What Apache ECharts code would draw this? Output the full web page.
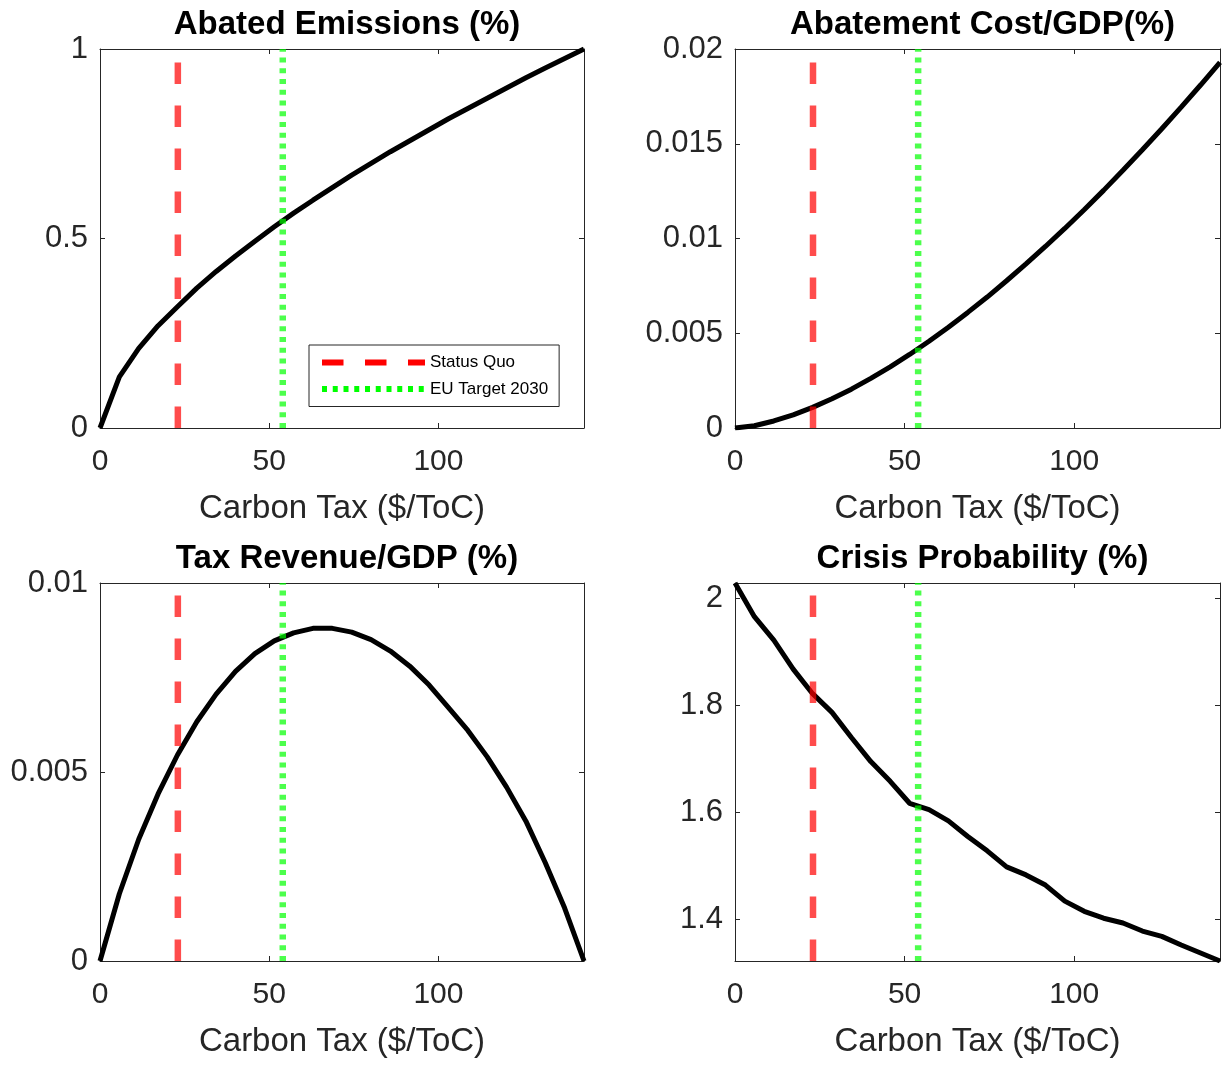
<!DOCTYPE html>
<html>
<head>
<meta charset="utf-8">
<script src="https://cdn.jsdelivr.net/npm/echarts@6/dist/echarts.min.js"></script>
<style>html,body{margin:0;padding:0;background:#fff}#main{width:1222px;height:1068px}</style>
</head>
<body>
<div id="main"></div>
<script>
// carbon tax grid ($/ToC)
var carbonTax = [0, 5.72, 11.44, 17.16, 22.88, 28.6, 34.32, 40.04, 45.76, 51.48, 57.2, 62.92, 68.64,
    74.36, 80.08, 85.8, 91.52, 97.24, 102.96, 108.68, 114.4, 120.12, 125.84, 131.56, 137.28, 143];
var abated = [0, 0.135, 0.21, 0.27, 0.32, 0.369, 0.413, 0.454, 0.493, 0.531, 0.567, 0.601, 0.634,
    0.667, 0.698, 0.729, 0.758, 0.787, 0.816, 0.843, 0.87, 0.897, 0.924, 0.95, 0.975, 1.0];
var abateCost = [0, 0.00012, 0.00037, 0.00069, 0.00109, 0.00154, 0.00205, 0.00262, 0.00323, 0.00388, 0.00458, 0.00532, 0.0061,
    0.00691, 0.00777, 0.00866, 0.00958, 0.01053, 0.01152, 0.01254, 0.0136, 0.01468, 0.01579, 0.01693, 0.0181, 0.0193];
var taxRevenue = [0, 0.00178, 0.00322, 0.00442, 0.00545, 0.00633, 0.00706, 0.00766, 0.00813, 0.00847, 0.00868, 0.0088, 0.0088,
    0.0087, 0.0085, 0.0082, 0.0078, 0.0073, 0.0067, 0.0061, 0.0054, 0.0046, 0.0037, 0.0026, 0.0014, 0];
var crisisProb = [2.029, 1.966, 1.922, 1.868, 1.822, 1.787, 1.74, 1.695, 1.658, 1.617, 1.605, 1.584, 1.555,
    1.528, 1.498, 1.483, 1.464, 1.434, 1.415, 1.402, 1.393, 1.378, 1.368, 1.352, 1.337, 1.322];
var statusQuo = 23;   // red dashed
var euTarget = 54;    // green dotted
var xTicks = [0, 50, 100];
var titles = ['Abated Emissions (%)', 'Abatement Cost/GDP(%)', 'Tax Revenue/GDP (%)', 'Crisis Probability (%)'];
var xName = 'Carbon Tax ($/ToC)';
var yRanges = [[0, 1], [0, 0.02], [0, 0.01], [1.322, 2.029]];
var yTicks = [[0, 0.5, 1], [0, 0.005, 0.01, 0.015, 0.02], [0, 0.005, 0.01], [1.4, 1.6, 1.8, 2]];

var font = 'Liberation Sans, Arial, Helvetica, sans-serif';
var axisColor = '#262626';
var curves = [abated, abateCost, taxRevenue, crisisProb];
var grids = [
    {left: 100, top: 49, width: 484, height: 379},
    {left: 735, top: 49, width: 485, height: 379},
    {left: 100, top: 583, width: 484, height: 378},
    {left: 735, top: 583, width: 485, height: 378}
];

function pairs(ys) {
    return carbonTax.map(function (x, i) { return [x, ys[i]]; });
}

var xAxes = [], yAxes = [], series = [], title = [];
grids.forEach(function (g, i) {
    title.push({
        text: titles[i], left: g.left + g.width / 2, top: i < 2 ? 3 : 537, textAlign: 'center',
        textStyle: {fontFamily: font, fontSize: 33, fontWeight: 'bold', color: '#000'}
    });
    ['bottom', 'top'].forEach(function (pos) {
        xAxes.push({
            gridIndex: i, type: 'value', position: pos, min: 0, max: 143,
            name: pos === 'bottom' ? xName : '', nameLocation: 'middle', nameGap: 64,
            nameTextStyle: {fontFamily: font, fontSize: 33, color: axisColor},
            axisLine: {show: true, onZero: false, lineStyle: {color: axisColor, width: 1}},
            axisTick: {show: true, inside: true, length: 5, customValues: xTicks, lineStyle: {color: axisColor}},
            axisLabel: {show: pos === 'bottom', customValues: xTicks, margin: 19, fontFamily: font, fontSize: 30, color: axisColor},
            splitLine: {show: false}
        });
    });
    ['left', 'right'].forEach(function (pos) {
        yAxes.push({
            gridIndex: i, type: 'value', position: pos, min: yRanges[i][0], max: yRanges[i][1],
            axisLine: {show: true, onZero: false, lineStyle: {color: axisColor, width: 1}},
            axisTick: {show: true, inside: true, length: 5, customValues: yTicks[i], lineStyle: {color: axisColor}},
            axisLabel: {show: pos === 'left', customValues: yTicks[i], margin: 12, fontFamily: font, fontSize: 31, color: axisColor},
            splitLine: {show: false}
        });
    });
    series.push({
        type: 'line', xAxisIndex: 2 * i, yAxisIndex: 2 * i, data: pairs(curves[i]),
        symbol: 'none', silent: true, z: 2,
        lineStyle: {color: '#000', width: 5}
    });
    series.push({
        name: 'Status Quo', type: 'line', xAxisIndex: 2 * i, yAxisIndex: 2 * i,
        data: [[statusQuo, yRanges[i][0]], [statusQuo, yRanges[i][1]]],
        symbol: 'none', silent: true, z: 3, color: '#ff0000',
        lineStyle: {color: '#ff0000', opacity: 0.7, width: 6.5, type: [21.5, 21.5]}
    });
    series.push({
        name: 'EU Target 2030', type: 'line', xAxisIndex: 2 * i, yAxisIndex: 2 * i,
        data: [[euTarget, yRanges[i][0]], [euTarget, yRanges[i][1]]],
        symbol: 'none', silent: true, z: 4, color: '#00ff00',
        lineStyle: {color: '#00ff00', opacity: 0.7, width: 6.5, type: [5, 5.75]}
    });
});

var chart = echarts.init(document.getElementById('main'));
chart.setOption({
    animation: false,
    backgroundColor: '#fff',
    title: title,
    legend: {
        left: 309, top: 345, orient: 'vertical', selectedMode: false,
        data: ['Status Quo', 'EU Target 2030'],
        itemWidth: 103, itemHeight: 14, itemGap: 9.5, padding: [9, 11, 9, 10],
        borderColor: '#262626', borderWidth: 1, backgroundColor: '#fff',
        textStyle: {fontFamily: font, fontSize: 17, color: '#000'},
        lineStyle: {width: 6, opacity: 1},
        itemStyle: {opacity: 0}
    },
    grid: grids,
    xAxis: xAxes,
    yAxis: yAxes,
    series: series
});
</script>
</body>
</html>
